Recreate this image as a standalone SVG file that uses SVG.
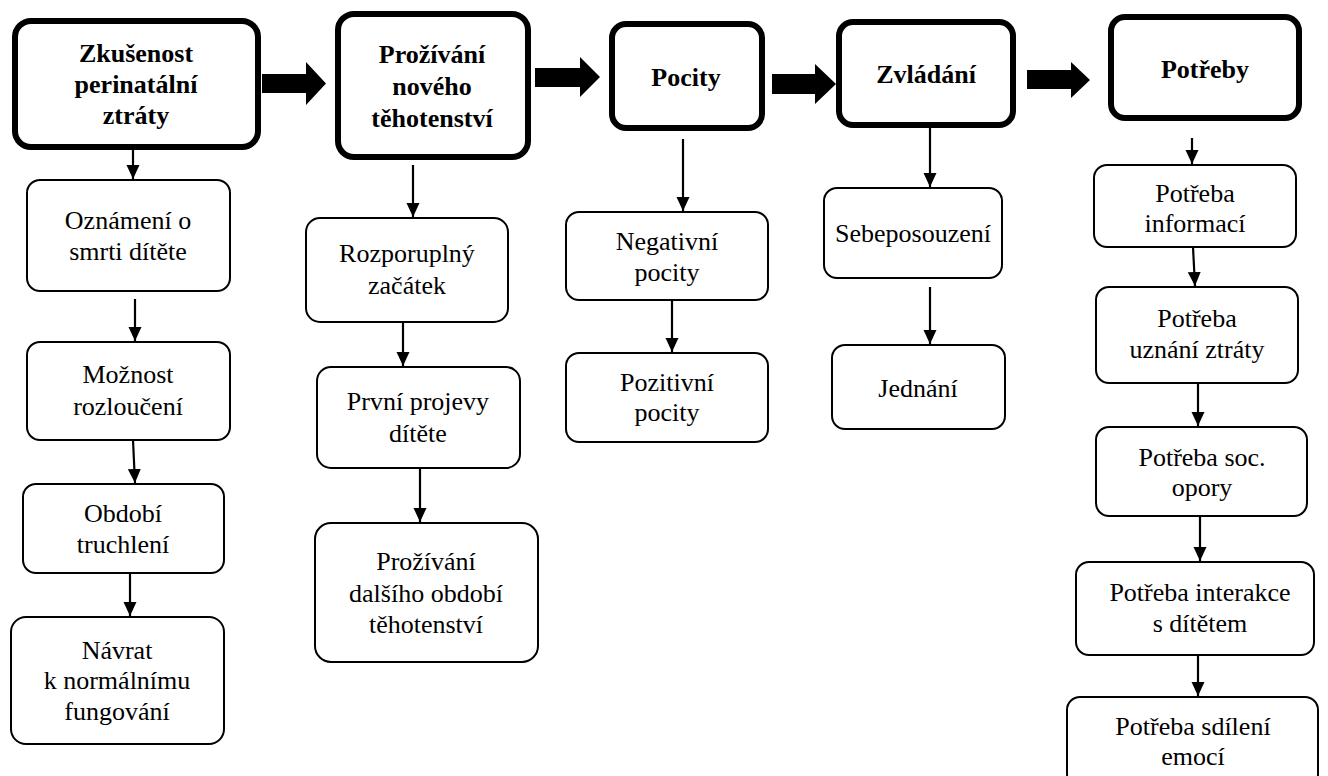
<svg xmlns="http://www.w3.org/2000/svg" width="1328" height="776" viewBox="0 0 1328 776">
<defs>
<style>
.hdr{fill:#fff;stroke:#000;stroke-width:6}
.box{fill:#fff;stroke:#000;stroke-width:2}
.c{stroke:#000;stroke-width:2.2;fill:none;marker-end:url(#ah)}
.big{fill:#000}
</style>
<marker id="ah" markerUnits="userSpaceOnUse" markerWidth="14" markerHeight="14" refX="14" refY="6.5" orient="auto" viewBox="0 0 14 13">
<path d="M0,0 L14,6.5 L0,13 z" fill="#000"/>
</marker>
</defs>
<rect width="1328" height="776" fill="#fff"/>
<g id="connectors">
<polygon class="big" points="262,74 306,74 306,62 326,83.5 306,105 306,93 262,93"/>
<polygon class="big" points="535,68 580,68 580,57 600,77 580,97 580,87 535,87"/>
<polygon class="big" points="772,74 815,74 815,64 836,84 815,104 815,94 772,94"/>
<polygon class="big" points="1027,70 1071,70 1071,62 1090,80 1071,98 1071,89 1027,89"/>
<line class="c" x1="133" y1="150" x2="133" y2="179"/>
<line class="c" x1="135" y1="299" x2="135" y2="341"/>
<line class="c" x1="133" y1="440" x2="135" y2="483"/>
<line class="c" x1="130" y1="574" x2="130" y2="616"/>
<line class="c" x1="413" y1="165" x2="413" y2="217"/>
<line class="c" x1="403" y1="322" x2="403" y2="366"/>
<line class="c" x1="420" y1="467" x2="420" y2="522"/>
<line class="c" x1="683" y1="139" x2="683" y2="211"/>
<line class="c" x1="672" y1="300" x2="672" y2="352"/>
<line class="c" x1="930" y1="128" x2="930" y2="187"/>
<line class="c" x1="930" y1="287" x2="930" y2="344"/>
<line class="c" x1="1192" y1="138" x2="1192" y2="164"/>
<line class="c" x1="1193" y1="247" x2="1195" y2="286"/>
<line class="c" x1="1198" y1="383" x2="1198" y2="426"/>
<line class="c" x1="1200" y1="516" x2="1200" y2="561"/>
<line class="c" x1="1198" y1="655" x2="1198" y2="696"/>
</g>
<g font-family="Liberation Serif, serif" font-size="26" text-anchor="middle" fill="#000">
<g id="n1"><rect class="hdr" x="15" y="21" width="243" height="126" rx="16"/>
<text font-weight="bold"><tspan x="136" y="62">Zkušenost</tspan><tspan x="136" y="93">perinatální</tspan><tspan x="136" y="124">ztráty</tspan></text></g>
<g id="n2"><rect class="hdr" x="338" y="14" width="190" height="143" rx="16"/>
<text font-weight="bold"><tspan x="432" y="63">Prožívání</tspan><tspan x="432" y="95">nového</tspan><tspan x="432" y="127">těhotenství</tspan></text></g>
<g id="n3"><rect class="hdr" x="612" y="24" width="150" height="104" rx="14"/>
<text font-weight="bold" x="686" y="86">Pocity</text></g>
<g id="n4"><rect class="hdr" x="839" y="22" width="174" height="103" rx="14"/>
<text font-weight="bold" x="926" y="83">Zvládání</text></g>
<g id="n5"><rect class="hdr" x="1111" y="17" width="188" height="101" rx="14"/>
<text font-weight="bold" x="1205" y="78">Potřeby</text></g>

<g id="a1"><rect class="box" x="27" y="180" width="203" height="111" rx="13"/>
<text><tspan x="128" y="229">Oznámení o</tspan><tspan x="128" y="260">smrti dítěte</tspan></text></g>
<g id="a2"><rect class="box" x="27" y="342" width="203" height="98" rx="13"/>
<text><tspan x="128" y="383">Možnost</tspan><tspan x="128" y="415">rozloučení</tspan></text></g>
<g id="a3"><rect class="box" x="23" y="484" width="201" height="89" rx="13"/>
<text><tspan x="123" y="522">Období</tspan><tspan x="123" y="553">truchlení</tspan></text></g>
<g id="a4"><rect class="box" x="11" y="617" width="213" height="127" rx="15"/>
<text><tspan x="117" y="659">Návrat</tspan><tspan x="117" y="689">k normálnímu</tspan><tspan x="117" y="720">fungování</tspan></text></g>

<g id="b1"><rect class="box" x="306" y="218" width="202" height="104" rx="14"/>
<text><tspan x="407" y="262">Rozporuplný</tspan><tspan x="407" y="294">začátek</tspan></text></g>
<g id="b2"><rect class="box" x="317" y="367" width="203" height="101" rx="14"/>
<text><tspan x="418" y="410">První projevy</tspan><tspan x="418" y="442">dítěte</tspan></text></g>
<g id="b3"><rect class="box" x="315" y="523" width="223" height="139" rx="16"/>
<text><tspan x="426" y="570">Prožívání</tspan><tspan x="426" y="602">dalšího období</tspan><tspan x="426" y="633">těhotenství</tspan></text></g>

<g id="c1"><rect class="box" x="566" y="212" width="202" height="88" rx="13"/>
<text><tspan x="667" y="250">Negativní</tspan><tspan x="667" y="281">pocity</tspan></text></g>
<g id="c2"><rect class="box" x="566" y="353" width="202" height="89" rx="13"/>
<text><tspan x="667" y="391">Pozitivní</tspan><tspan x="667" y="421">pocity</tspan></text></g>

<g id="d1"><rect class="box" x="824" y="188" width="178" height="90" rx="13"/>
<text x="913" y="242">Sebeposouzení</text></g>
<g id="d2"><rect class="box" x="832" y="345" width="173" height="84" rx="13"/>
<text x="918" y="397">Jednání</text></g>

<g id="e1"><rect class="box" x="1094" y="165" width="202" height="82" rx="13"/>
<text><tspan x="1195" y="202">Potřeba</tspan><tspan x="1195" y="232">informací</tspan></text></g>
<g id="e2"><rect class="box" x="1096" y="287" width="202" height="96" rx="13"/>
<text><tspan x="1197" y="327">Potřeba</tspan><tspan x="1197" y="358">uznání ztráty</tspan></text></g>
<g id="e3"><rect class="box" x="1096" y="427" width="211" height="89" rx="13"/>
<text><tspan x="1202" y="466">Potřeba soc.</tspan><tspan x="1202" y="496">opory</tspan></text></g>
<g id="e4"><rect class="box" x="1076" y="562" width="238" height="93" rx="13"/>
<text><tspan x="1200" y="601">Potřeba interakce</tspan><tspan x="1200" y="632">s dítětem</tspan></text></g>
<g id="e5"><rect class="box" x="1067" y="697" width="251" height="90" rx="13"/>
<text><tspan x="1193" y="735">Potřeba sdílení</tspan><tspan x="1193" y="765">emocí</tspan></text></g>
</g>
</svg>
